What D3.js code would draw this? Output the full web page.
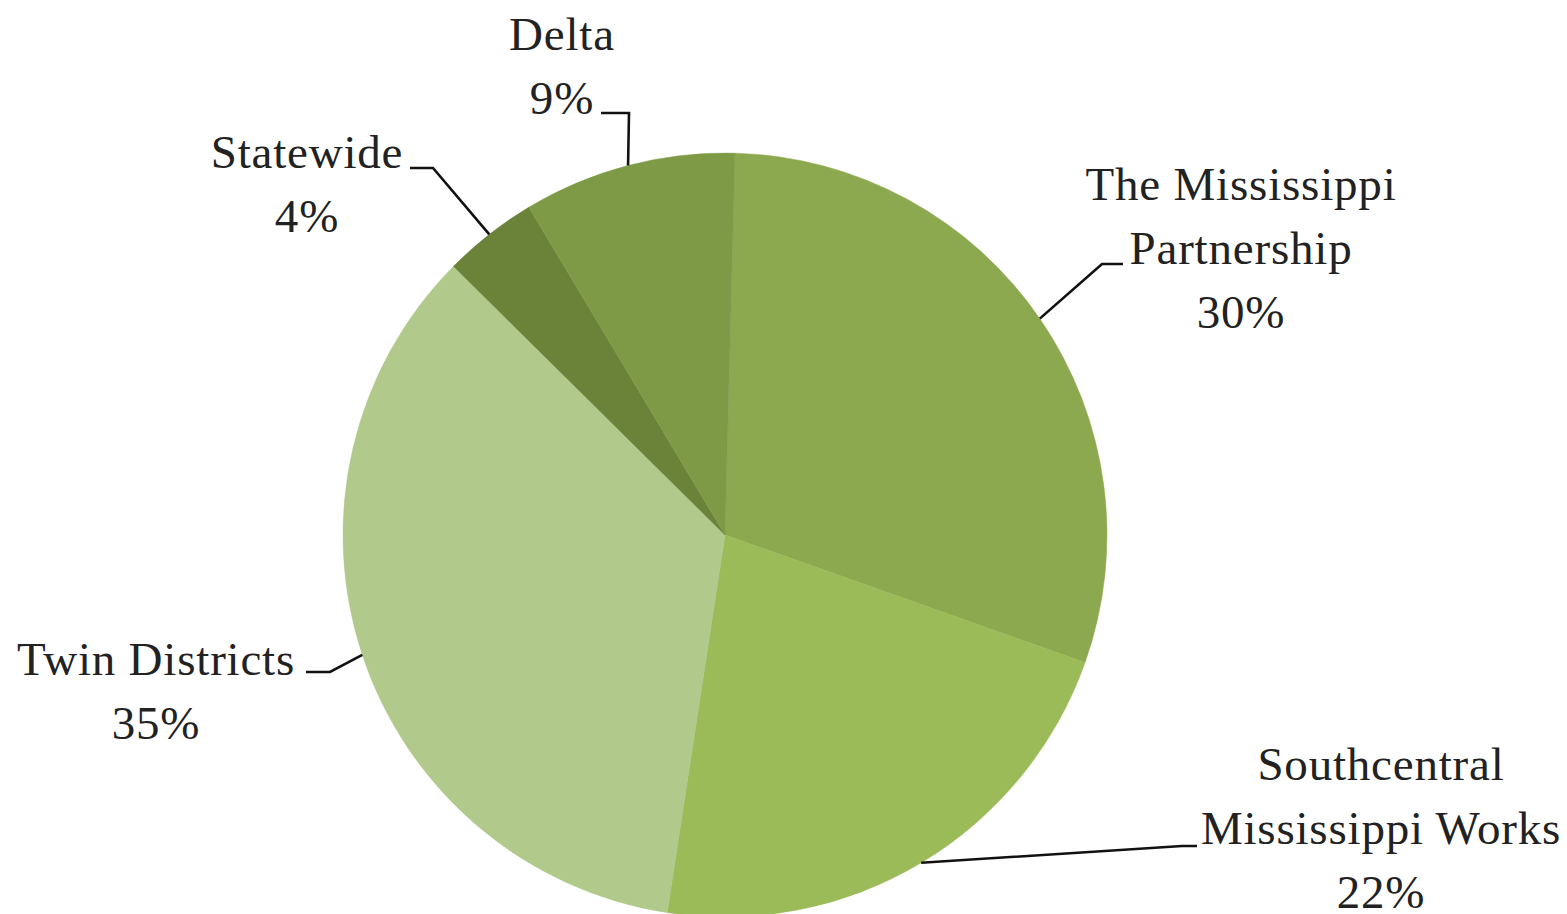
<!DOCTYPE html>
<html>
<head>
<meta charset="utf-8">
<script src="https://cdn.jsdelivr.net/npm/d3@7"></script>
<style>
  html, body { margin: 0; padding: 0; background: #fff; }
  svg { display: block; }
</style>
</head>
<body>
<div id="chart"></div>
<script>
(function () {
  'use strict';

  // Data, in drawing order (clockwise from 12 o'clock)
  const categories = ['The Mississippi Partnership', 'Southcentral Mississippi Works', 'Twin Districts', 'Statewide', 'Delta'];
  const shares = [30, 22, 35, 4, 9];
  const labelLines = [
    ['The Mississippi', 'Partnership', '30%'],
    ['Southcentral', 'Mississippi Works', '22%'],
    ['Twin Districts', '35%'],
    ['Statewide', '4%'],
    ['Delta', '9%'],
  ];
  const colors = ['#8CA94F', '#9BBB59', '#B1C98A', '#6B8239', '#7E9A47'];

  // Label layout: text centre x, first baseline, leader elbow and end
  const layout = [
    { x: 1241, y: 200, elbow: [1102, 264], end: [1123, 264] },
    { x: 1381, y: 780, elbow: [1182, 846], end: [1197, 846] },
    { x: 156,  y: 675, elbow: [330, 672],  end: [306, 672] },
    { x: 307,  y: 168, elbow: [433, 168],  end: [410, 168] },
    { x: 562,  y: 50,  elbow: [629, 113],  end: [601, 113] },
  ];

  const W = 1567, H = 914;
  const cx = 725, cy = 535, R = 382;
  const LINE_H = 64;
  const startAngle = 1.5 * Math.PI / 180;

  const svg = d3.select('#chart').append('svg').attr('width', W).attr('height', H);
  const g = svg.append('g').attr('transform', `translate(${cx},${cy})`);

  const pie = d3.pie().sort(null).value(d => d)
    .startAngle(startAngle).endAngle(startAngle + 2 * Math.PI);
  const arcs = pie(shares);
  const arc = d3.arc().innerRadius(0).outerRadius(R);

  g.selectAll('path.slice').data(arcs).enter().append('path')
    .attr('class', 'slice')
    .attr('d', arc)
    .attr('fill', (d, i) => colors[i])
    .attr('stroke', (d, i) => colors[i])
    .attr('stroke-width', 0.5);

  // Leader lines: from the rim at each slice's mid-angle to the label
  const lines = svg.append('g');
  arcs.forEach((d, i) => {
    const a = (d.startAngle + d.endAngle) / 2;
    const p0 = [cx + R * Math.sin(a), cy - R * Math.cos(a)];
    const L = layout[i];
    lines.append('path')
      .attr('d', d3.line()([p0, L.elbow, L.end]))
      .attr('fill', 'none')
      .attr('stroke', '#111')
      .attr('stroke-width', 2.6);
  });

  // Labels
  const labels = svg.append('g')
    .style('font-family', "'Liberation Serif', 'DejaVu Serif', serif")
    .style('font-size', '47px')
    .style('letter-spacing', '0.8px')
    .style('fill', '#222');
  labelLines.forEach((ls, i) => {
    const L = layout[i];
    const t = labels.append('text').attr('text-anchor', 'middle');
    ls.forEach((s, k) => {
      t.append('tspan').attr('x', L.x).attr('y', L.y + k * LINE_H).text(s);
    });
  });
})();
</script>
</body>
</html>
